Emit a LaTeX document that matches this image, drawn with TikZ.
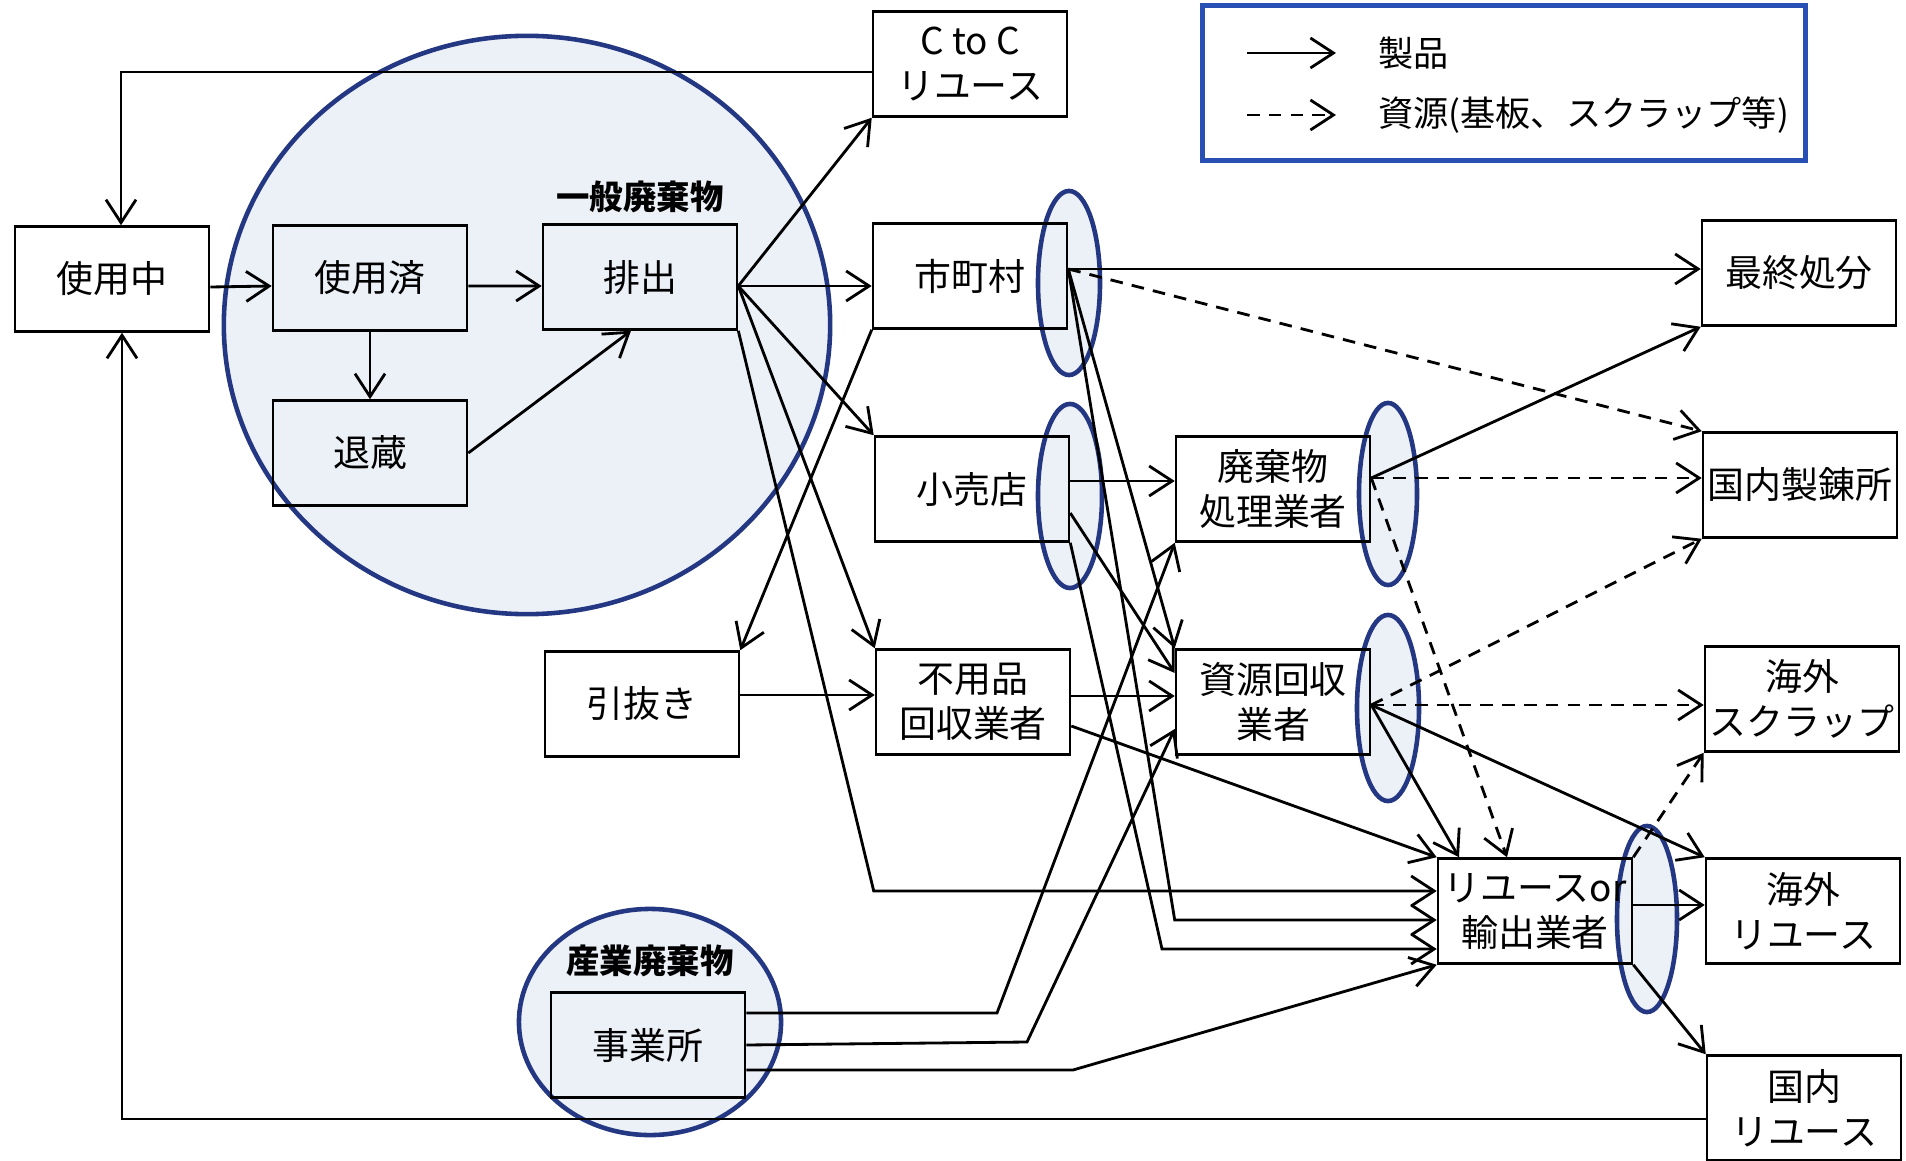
\documentclass[tikz,border=0pt]{standalone}
\usepackage{fontspec}
\setmainfont{Noto Sans CJK JP}
\usetikzlibrary{arrows.meta}

\definecolor{ringblue}{RGB}{35,55,130}
\definecolor{ringfill}{RGB}{236,240,247}
\definecolor{legendblue}{RGB}{40,80,180}

\begin{document}
\begin{tikzpicture}[x=0.01cm, y=-0.01cm,
  >={Straight Barb[length=2.3mm,width=3mm]},
  box/.style={draw, rectangle, line width=0.7pt, minimum width=1.94cm, minimum height=1.05cm, align=center, inner sep=1pt, font=\fontsize{10.5}{12.8}\selectfont},
  ring/.style={draw=ringblue, fill=ringfill, line width=1.3pt},
  flow/.style={->, line width=0.8pt},
  res/.style={->, line width=0.8pt, dash pattern=on 3.6pt off 2.6pt},
  tag/.style={font=\fontsize{9.5}{11}\selectfont\bfseries},
  keytext/.style={anchor=west, font=\fontsize{10}{12}\selectfont}]

\useasboundingbox (0,0) rectangle (1906,1161);

% groups behind the boxes
\filldraw[ring] (527,325) ellipse [x radius=3.03cm, y radius=2.89cm];
\filldraw[ring] (650,1022) ellipse [x radius=1.31cm, y radius=1.13cm];
\filldraw[ring] (1069,283) ellipse [x radius=0.31cm, y radius=0.92cm];
\filldraw[ring] (1070,496) ellipse [x radius=0.32cm, y radius=0.92cm];
\filldraw[ring] (1388,494) ellipse [x radius=0.29cm, y radius=0.91cm];
\filldraw[ring] (1388,708) ellipse [x radius=0.31cm, y radius=0.93cm];
\filldraw[ring] (1647,919) ellipse [x radius=0.30cm, y radius=0.93cm];

\node[tag] (general) at (640,197) {一般廃棄物};
\node[tag] (industrial) at (650,961) {産業廃棄物};

% boxes
\node[box] (use) at (112,279) {使用中};
\node[box] (used) at (370,278) {使用済};
\node[box] (haishutsu) at (640,277) {排出};
\node[box] (taizo) at (370,453) {退蔵};
\node[box] (ctoc) at (970,64) {C to C\\リユース};
\node[box] (city) at (970,276) {市町村};
\node[box] (shop) at (972,489) {小売店};
\node[box] (pullout) at (642,704) {引抜き};
\node[box] (junk) at (973,702) {不用品\\回収業者};
\node[box] (waste) at (1273,489) {廃棄物\\処理業者};
\node[box] (recycler) at (1273,702) {資源回収\\業者};
\node[box] (reuse) at (1535,911) {リユースor\\輸出業者};
\node[box] (landfill) at (1799,273) {最終処分};
\node[box] (smelter) at (1800,485) {国内製錬所};
\node[box] (scrap) at (1802,699) {海外\\スクラップ};
\node[box] (abroad) at (1803,911) {海外\\リユース};
\node[box] (domestic) at (1804,1108) {国内\\リユース};
\node[box] (office) at (648,1045) {事業所};

% legend
\node[draw=legendblue, line width=1.4pt, minimum width=6.03cm, minimum height=1.54cm] (legend) at (1504,83) {};
\coordinate (keySolidA) at (1247,53);
\coordinate (keySolidB) at (1336,53);
\coordinate (keyDashA) at (1247,115);
\coordinate (keyDashB) at (1336,115);
\node[keytext] (keyProduct) at (1366,53) {製品};
\node[keytext] (keyResource) at (1366,115) {資源(基板、スクラップ等)};
\draw[flow] (keySolidA) -- (keySolidB);
\draw[res] (keyDashA) -- (keyDashB);

% hubs and bends
\coordinate (hubA) at ([yshift=-0.09cm]haishutsu.east);
\coordinate (hubB) at ([yshift=0.07cm]city.east);
\coordinate (hubD) at ([yshift=0.11cm]waste.east);
\coordinate (hubE) at ([yshift=-0.03cm]recycler.east);
\coordinate (inB) at ([yshift=0.20cm]reuse.west);
\coordinate (inC) at ([yshift=-0.09cm]reuse.west);
\coordinate (inD) at ([yshift=-0.38cm]reuse.west);
\coordinate (bendB) at (shop.west |- inB);
\coordinate (bendC) at (recycler.west |- inC);
\coordinate (bendD) at (1162,949);
\coordinate (bendE) at (997,1013);
\coordinate (bendF) at (1027,1042);
\coordinate (bendG) at (1073,1070);
\coordinate (pullOut) at ([yshift=0.09cm]pullout.east);
\coordinate (shopOut) at ([yshift=0.08cm]shop.east);
\coordinate (junkOut) at ([yshift=0.06cm]junk.east);

% products
\draw[flow] ([yshift=-0.08cm]ctoc.west) -| ([xshift=0.09cm]use.north);
\draw[flow] ([yshift=-0.11cm]domestic.west) -| ([xshift=0.1cm]use.south);
\draw[flow] ([yshift=-0.08cm]use.east) -- ([yshift=-0.08cm]used.west);
\draw[flow] ([yshift=-0.08cm]used.east) -- ([yshift=-0.09cm]haishutsu.west);
\draw[flow] (used) -- (taizo);
\draw[flow] (taizo.east) -- ([xshift=-0.09cm]haishutsu.south);
\draw[flow] (hubA) -- (ctoc.south west);
\draw[flow] (hubA) -- (hubA -| city.west);
\draw[flow] (hubA) -- (shop.north west);
\draw[flow] (hubA) -- (junk.north west);
\draw[flow] (haishutsu.south east) -- (bendB) -- (inB);
\draw[flow] (city.south west) -- (pullout.north east);
\draw[flow] (pullOut) -- (pullOut -| junk.west);
\draw[flow] (hubB) -- (hubB -| landfill.west);
\draw[res] (hubB) -- (smelter.north west);
\draw[flow] (hubB) -- (recycler.north west);
\draw[flow] (hubB) -- (bendC) -- (inC);
\draw[flow] (shopOut) -- (shopOut -| waste.west);
\draw[flow] ([yshift=-0.24cm]shop.east) -- ([yshift=0.29cm]recycler.west);
\draw[flow] (shop.south east) -- (bendD) -- (inD);
\draw[flow] (junkOut) -- (junkOut -| recycler.west);
\draw[flow] ([yshift=-0.24cm]junk.east) -- (reuse.north west);
\draw[flow] (hubD) -- (landfill.south west);
\draw[res] (hubD) -- (hubD -| smelter.west);
\draw[res] (hubD) -- ([xshift=-0.28cm]reuse.north);
\draw[res] (hubE) -- (smelter.south west);
\draw[res] (hubE) -- (hubE -| scrap.west);
\draw[flow] (hubE) -- (abroad.north west);
\draw[flow] (hubE) -- ([xshift=-0.76cm]reuse.north);
\draw[flow] ([yshift=0.06cm]reuse.east) -- ([yshift=0.06cm]abroad.west);
\draw[res] (reuse.north east) -- (scrap.south west);
\draw[flow] (reuse.south east) -- (domestic.north west);
\draw[flow] ([yshift=0.32cm]office.east) -- (bendE) -- (waste.south west);
\draw[flow] (office.east) -- (bendF) -- ([yshift=-0.27cm]recycler.west);
\draw[flow] ([yshift=-0.25cm]office.east) -- (bendG) -- (reuse.south west);
\end{tikzpicture}
\end{document}
